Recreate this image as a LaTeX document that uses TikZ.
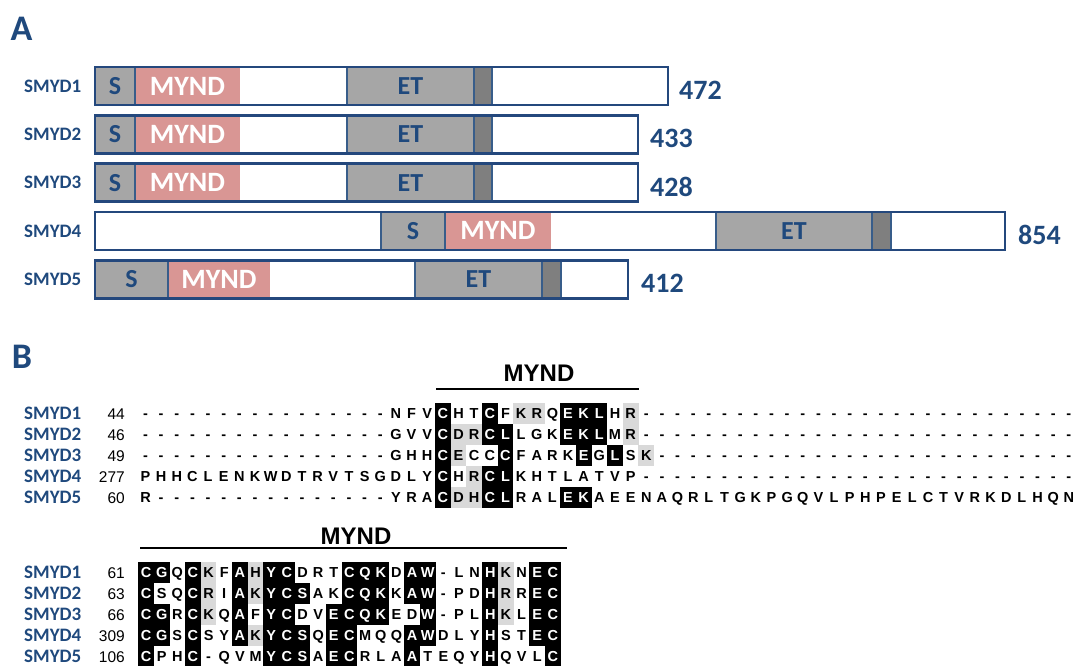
\documentclass[tikz,border=0pt]{standalone}
\usepackage{fontspec}
\setmainfont{Liberation Sans}
\newfontfamily\calfont{Carlito}
\definecolor{txtblue}{RGB}{31,73,125}
\definecolor{boxblue}{RGB}{36,72,125}
\definecolor{segblue}{RGB}{56,93,138}
\definecolor{sgray}{RGB}{166,166,166}
\definecolor{dgray}{RGB}{127,127,127}
\definecolor{mpink}{RGB}{217,150,148}
\definecolor{lgray}{RGB}{217,217,217}
\newcount\seqcol
\def\dfour{----}
\def\dsixteen{\dfour\dfour\dfour\dfour}
\def\dtwentyeight{\dsixteen\dfour\dfour\dfour}
\def\putseq#1#2#3#4{\edef\seqstr{#4}\def\seqpre{#1}\def\seqx{#2}\def\seqy{#3}\seqcol=0 \def\seqmode{n}\expandafter\doseq\seqstr\relax}
\def\doseq#1{%
  \ifx\relax#1%
  \else
    \ifx!#1\def\seqmode{b}%
    \else\ifx?#1\def\seqmode{g}%
    \else
      \advance\seqcol by 1
      \placeres{#1}%
      \def\seqmode{n}%
    \fi\fi
    \expandafter\doseq
  \fi}
\def\placeres#1{%
  \pgfmathsetmacro\px{\seqx+(\the\seqcol-1)*15.65}%
  \if b\seqmode
    \fill[black] (\px-7.88,\seqy-10.55) rectangle (\px+7.88,\seqy+10.55);
    \node[res,text=white] (\seqpre\the\seqcol) at (\px,\seqy) {#1};
  \else\if g\seqmode
    \fill[lgray] (\px-7.88,\seqy-10.55) rectangle (\px+7.88,\seqy+10.55);
    \node[res] (\seqpre\the\seqcol) at (\px,\seqy) {#1};
  \else
    \node[res] (\seqpre\the\seqcol) at (\px,\seqy) {#1};
  \fi\fi}
\newcommand\protein[9]{%
  \pgfmathsetmacro\yt{#2-19}\pgfmathsetmacro\yb{#2+19}%
  \filldraw[fill=sgray,seg] (#3,\yt) rectangle (#4,\yb);
  \fill[mpink] (#4+1,\yt) rectangle (#5,\yb);
  \filldraw[fill=sgray,seg] (#6,\yt) rectangle (#7,\yb);
  \filldraw[fill=dgray,seg] (#7,\yt) rectangle (#8,\yb);
  \draw[outer] (95,\yt) rectangle (#9,\yb);
  \node[dS] (#1S) at ({(#3+#4)/2},#2) {S};
  \node[dM] (#1M) at ({(#4+#5)/2},#2) {MYND};
  \node[dS] (#1E) at ({(#6+#7)/2},#2) {ET};
}
\tikzset{
  panel/.style={font=\calfont\bfseries\fontsize{36}{36}\selectfont, text=txtblue, inner sep=0pt},
  protlab/.style={font=\calfont\bfseries\fontsize{19}{19}\selectfont, text=txtblue, inner sep=0pt, anchor=west},
  plen/.style={font=\calfont\bfseries\fontsize{28}{28}\selectfont, text=txtblue, inner sep=0pt, anchor=west},
  dS/.style={font=\calfont\bfseries\fontsize{26}{26}\selectfont, text=txtblue, inner sep=0pt},
  dM/.style={font=\calfont\bfseries\fontsize{28}{28}\selectfont, text=white, inner sep=0pt},
  seg/.style={draw=segblue, line width=2pt},
  outer/.style={draw=boxblue, line width=2.8pt},
  res/.style={font=\bfseries\fontsize{14.5}{14.5}\selectfont, inner sep=0pt, text height=10.4pt, text depth=0pt},
  numl/.style={font=\fontsize{15.5}{15.5}\selectfont, inner sep=0pt, anchor=east, text height=11pt, text depth=0pt},
  mtitle/.style={font=\bfseries\fontsize{24}{24}\selectfont, inner sep=0pt},
  mbar/.style={line width=2pt},
}
\begin{document}
\begin{tikzpicture}[x=1pt,y=-1pt]
\useasboundingbox (0,0) rectangle (1078,666);
\clip (0,0) rectangle (1078,666);
% ---------- Panel A ----------
\node[panel] (pA) at (21.5,28.5) {A};
\protein{p1}{86}{95}{135}{240}{347}{474}{492}{668}
\protein{p2}{134.3}{95}{135}{240}{347}{474}{492}{638}
\protein{p3}{182.6}{95}{135}{240}{347}{474}{492}{638}
\protein{p4}{230.9}{381}{445}{551}{716}{872}{891}{1005}
\protein{p5}{279.2}{95}{168}{270}{415}{542}{561}{628}
\node[protlab] (a1) at (24,86) {SMYD1};
\node[protlab] (a2) at (24,134.3) {SMYD2};
\node[protlab] (a3) at (24,182.6) {SMYD3};
\node[protlab] (a4) at (24,230.9) {SMYD4};
\node[protlab] (a5) at (24,279.2) {SMYD5};
\node[plen] (len1) at (679,90) {472};
\node[plen] (len2) at (650,138.3) {433};
\node[plen] (len3) at (650,186.6) {428};
\node[plen] (len4) at (1018,234.9) {854};
\node[plen] (len5) at (641,283.2) {412};
% ---------- Panel B ----------
\node[panel] (pB) at (22,357) {B};
\node[mtitle] (mt1) at (539,373) {MYND};
\coordinate (m1a) at (436,389);
\coordinate (m1b) at (639,389);
\draw[mbar] (m1a) -- (m1b);
\node[protlab] (b1) at (24,413.5) {SMYD1};
\node[protlab] (b2) at (24,434.5) {SMYD2};
\node[protlab] (b3) at (24,455.5) {SMYD3};
\node[protlab] (b4) at (24,476.5) {SMYD4};
\node[protlab] (b5) at (24,497.5) {SMYD5};
\node[numl] (n1) at (125,413.5) {44};
\node[numl] (n2) at (125,434.5) {46};
\node[numl] (n3) at (125,455.5) {49};
\node[numl] (n4) at (125,476.5) {277};
\node[numl] (n5) at (125,497.5) {60};
\putseq{xAr1c}{145.5}{413.5}{\dsixteen NFV!CHT!CF?K?RQ!E!K!LH?R\dtwentyeight}
\putseq{xAr2c}{145.5}{434.5}{\dsixteen GVV!C?D?R!C!LLGK!E!K!LM?R\dtwentyeight}
\putseq{xAr3c}{145.5}{455.5}{\dsixteen GHH!C?ECC!CFARK!EG!LS?K\dtwentyeight}
\putseq{xAr4c}{145.5}{476.5}{PHHCLENKWDTRVTSGDLY!CH?R!C!LKHTLATVP\dtwentyeight}
\putseq{xAr5c}{145.5}{497.5}{R\dfour\dfour\dfour---YRA!C?D?H!C!LRAL!E!KAEENAQRLTGKPGQVLPHPELCTVRKDLHQN}
% block 2
\node[mtitle] (mt2) at (356,536) {MYND};
\coordinate (m2a) at (140,548);
\coordinate (m2b) at (567,548);
\draw[mbar] (m2a) -- (m2b);
\node[protlab] (c1) at (24,572.5) {SMYD1};
\node[protlab] (c2) at (24,593.5) {SMYD2};
\node[protlab] (c3) at (24,614.5) {SMYD3};
\node[protlab] (c4) at (24,635.5) {SMYD4};
\node[protlab] (c5) at (24,656.5) {SMYD5};
\node[numl] (k1) at (125,572.5) {61};
\node[numl] (k2) at (125,593.5) {63};
\node[numl] (k3) at (125,614.5) {66};
\node[numl] (k4) at (125,635.5) {309};
\node[numl] (k5) at (125,656.5) {106};
\putseq{xBr1c}{146}{572.5}{!C!GQ!C?KF!A?H!Y!CDRT!C!Q!KD!A!W-LN!H?KN!E!C}
\putseq{xBr2c}{146}{593.5}{!CSQ!C?RI!A?K!Y!C!SAK!C!Q!KK!A!W-PD!H?RR!E!C}
\putseq{xBr3c}{146}{614.5}{!C!GR!C?KQ!AF!Y!CDV!E!C!Q!KED!W-PL!H?KL!E!C}
\putseq{xBr4c}{146}{635.5}{!C!GS!CSY!A?K!Y!C!SQ!E!CMQQ!A!WDLY!HST!E!C}
\putseq{xBr5c}{146}{656.5}{!CPH!C-QVM!Y!C!SA!E!CRLA!ATEQY!HQVL!C}
\end{tikzpicture}
\end{document}
